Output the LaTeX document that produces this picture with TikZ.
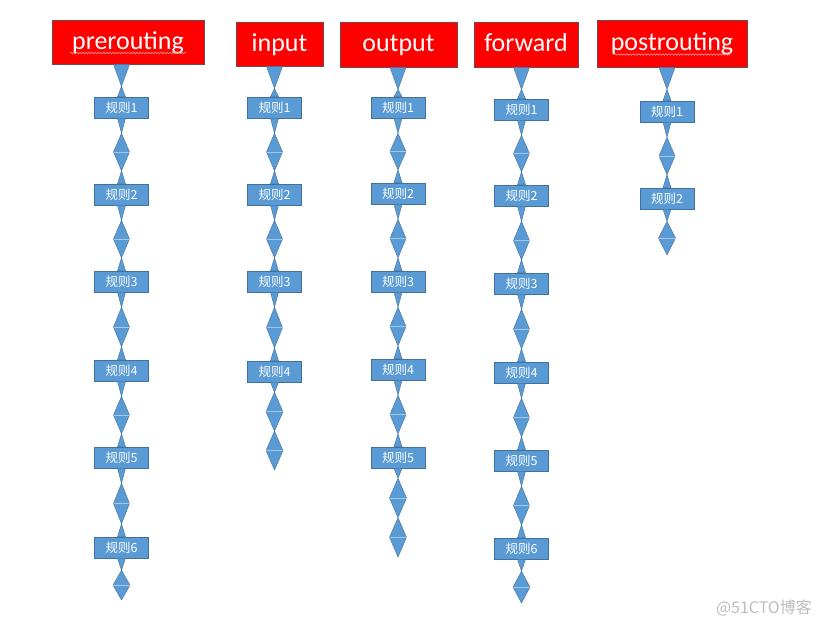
\documentclass[tikz,border=0pt]{standalone}
\usepackage{fontspec}
\setmainfont{Carlito}
\newfontfamily\cjk{Noto Sans CJK SC}
\usetikzlibrary{calc,decorations.pathmorphing}
\definecolor{arrblue}{RGB}{91,155,213}
\definecolor{arredge}{RGB}{65,113,156}
\definecolor{hdrred}{RGB}{255,0,0}
\definecolor{hdredge}{RGB}{120,70,70}
\definecolor{wmgray}{RGB}{190,190,190}
\tikzset{
  hdr/.style={draw=hdredge, fill=hdrred, line width=0.8pt, text=white, inner sep=0pt, text height=18pt, text depth=4pt, font=\fontsize{26}{30}\selectfont},
  rule/.style={draw=arredge, fill=arrblue, line width=0.5pt, text=white, inner sep=0pt, minimum width=54pt, minimum height=21pt, font=\cjk\fontsize{12.5}{14}\selectfont},
  arr/.style={fill=arrblue, draw=arredge, line width=0.4pt, line join=miter},
  seam/.style={draw=white!45!arrblue, line width=0.5pt},
  squig/.style={draw=red!35!white, line width=0.5pt, decorate, decoration={snake, amplitude=0.8pt, segment length=3pt}}
}
\newcommand\hconn[2]{%
  \path[arr] let \p1=(#1.south), \p2=(#2.north) in
    (\x2-8pt,\y1) -- (\x2+8pt,\y1) -- (\x2,\y1-22pt) -- (\x2+4pt,\y2) -- (\x2-4pt,\y2) -- (\x2,\y1-22pt) -- cycle;}
\newcommand\rconn[2]{%
  \path[arr] let \p1=(#1.south), \p2=(#2.north), \p3=($(#1.south)!.5!(#2.north)$) in
    (\x1-4pt,\y1) -- (\x1+4pt,\y1) -- (\x1,\y1-15pt) -- (\x1+8pt,\y3-1pt) -- (\x1,\y2+13pt)
    -- (\x1+4pt,\y2) -- (\x1-4pt,\y2) -- (\x1,\y2+13pt) -- (\x1-8pt,\y3-1pt) -- (\x1,\y1-15pt) -- cycle;
  \path[seam] let \p1=(#1.south), \p3=($(#1.south)!.5!(#2.north)$) in
    (\x1-8pt,\y3-1pt) -- (\x1+8pt,\y3-1pt);}
\newcommand\tailone[2]{%
  \path[arr] let \p1=(#1.south), \p2=(#2), \p3=($(#1.south)!.5!(#2)$) in
    (\x1-4pt,\y1) -- (\x1+4pt,\y1) -- (\x1,\y1-12pt) -- (\x1+8.5pt,\y3-6pt) -- (\x1,\y2)
    -- (\x1-8.5pt,\y3-6pt) -- (\x1,\y1-12pt) -- cycle;
  \path[seam] let \p1=(#1.south), \p3=($(#1.south)!.5!(#2)$) in
    (\x1-8.5pt,\y3-6pt) -- (\x1+8.5pt,\y3-6pt);}
\newcommand\tailtwo[2]{%
  \path[arr] let \p1=(#1.south), \p2=(#2), \p3=($(#1.south)!.5!(#2)$),
      \p4=($(#1.south)!.25!(#2)$), \p5=($(#1.south)!.75!(#2)$) in
    (\x1-4pt,\y1) -- (\x1+4pt,\y1) -- (\x1,\y1-10pt) -- (\x1+8.5pt,\y4-7.5pt) -- (\x1,\y3-5pt)
    -- (\x1+8.5pt,\y5-2.5pt) -- (\x1,\y2) -- (\x1-8.5pt,\y5-2.5pt) -- (\x1,\y3-5pt)
    -- (\x1-8.5pt,\y4-7.5pt) -- (\x1,\y1-10pt) -- cycle;
  \path[seam] let \p1=(#1.south), \p4=($(#1.south)!.25!(#2)$), \p5=($(#1.south)!.75!(#2)$) in
    (\x1-8.5pt,\y4-7.5pt) -- (\x1+8.5pt,\y4-7.5pt)
    (\x1-8.5pt,\y5-2.5pt) -- (\x1+8.5pt,\y5-2.5pt);}
\begin{document}
\begin{tikzpicture}[x=1pt,y=-1pt]
\fill[white] (0,0) rectangle (819,627);
\useasboundingbox (0,0) rectangle (819,627);
% headers
\node[hdr, minimum width=152pt, minimum height=44pt] (pre) at (128,42) {prerouting};
\node[hdr, minimum width=87pt, minimum height=44pt] (inp) at (279.5,44) {input};
\node[hdr, minimum width=117pt, minimum height=45pt] (out) at (398.5,44.5) {output};
\node[hdr, minimum width=104pt, minimum height=45pt] (fwd) at (526,44.5) {forward};
\node[hdr, minimum width=150pt, minimum height=47pt] (post) at (672,43.5) {postrouting};
\draw[squig] ($(pre.center)+(-58,11)$) -- ($(pre.center)+(58,11)$);
\draw[squig] ($(post.center)+(-58,11)$) -- ($(post.center)+(58,11)$);
% prerouting column
\foreach \i/\y in {1/107.5,2/194.5,3/281.5,4/370.5,5/457.5,6/547.5}
  \node[rule] (pre\i) at (121.5,\y) {规则\i};
% input column
\foreach \i/\y in {1/107.5,2/194.5,3/281.5,4/371.5}
  \node[rule] (inp\i) at (274.5,\y) {规则\i};
% output column
\foreach \i/\y in {1/107.5,2/193.5,3/281.5,4/369.5,5/457.5}
  \node[rule] (out\i) at (398,\y) {规则\i};
% forward column
\foreach \i/\y in {1/109.5,2/195.5,3/283.5,4/372.5,5/460.5,6/548.5}
  \node[rule] (fwd\i) at (521.5,\y) {规则\i};
% postrouting column
\foreach \i/\y in {1/111.5,2/198.5}
  \node[rule] (post\i) at (667,\y) {规则\i};
% tail ends
\coordinate (preend) at (121.5,600);
\coordinate (inpend) at (274.5,470);
\coordinate (outend) at (398,557);
\coordinate (fwdend) at (521.5,603);
\coordinate (postend) at (667,255);
% connectors
\hconn{pre}{pre1}
\hconn{inp}{inp1}
\hconn{out}{out1}
\hconn{fwd}{fwd1}
\hconn{post}{post1}
\rconn{pre1}{pre2}\rconn{pre2}{pre3}\rconn{pre3}{pre4}\rconn{pre4}{pre5}\rconn{pre5}{pre6}
\rconn{inp1}{inp2}\rconn{inp2}{inp3}\rconn{inp3}{inp4}
\rconn{out1}{out2}\rconn{out2}{out3}\rconn{out3}{out4}\rconn{out4}{out5}
\rconn{fwd1}{fwd2}\rconn{fwd2}{fwd3}\rconn{fwd3}{fwd4}\rconn{fwd4}{fwd5}\rconn{fwd5}{fwd6}
\rconn{post1}{post2}
\tailone{pre6}{preend}
\tailtwo{inp4}{inpend}
\tailtwo{out5}{outend}
\tailone{fwd6}{fwdend}
\tailone{post2}{postend}
% watermark
\node[anchor=east, text=wmgray, inner sep=0pt, font=\cjk\fontsize{16}{18}\selectfont] (wm) at (812,608) {@51CTO博客};
\end{tikzpicture}
\end{document}
